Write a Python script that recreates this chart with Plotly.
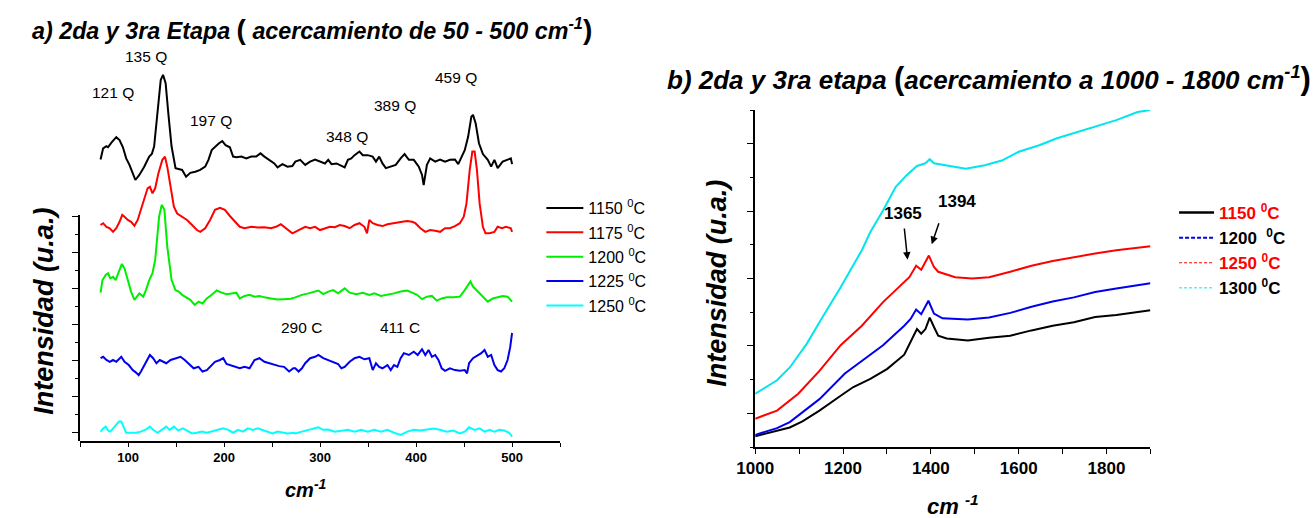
import plotly.graph_objects as go

# ---------------- panel a: Raman spectra 50-500 cm-1 (offset, arbitrary units) ----------------
labels_a = ["1150 <sup>0</sup>C", "1175 <sup>0</sup>C", "1200 <sup>0</sup>C", "1225 <sup>0</sup>C", "1250 <sup>0</sup>C"]
colors_a = ["#000000", "#ff0000", "#00ee00", "#0000ee", "#00ffff"]

spec_1150 = [(71.3, 7.57), (74.0, 7.88), (77.4, 7.94), (79.1, 7.91), (82.6, 8.04), (87.7, 8.19), (91.1, 8.11),
             (94.6, 7.91), (98.0, 7.60), (101.4, 7.42), (104.8, 7.19), (107.6, 7.00), (111.7, 7.14), (116.8, 7.37),
             (122.0, 7.65), (124.7, 7.72), (127.1, 7.93), (130.6, 8.94), (134.0, 9.78), (136.4, 9.92), (139.1, 9.69),
             (141.9, 8.85), (145.3, 7.93), (149.4, 7.33), (152.8, 7.30), (156.3, 7.28), (160.4, 7.09), (164.8, 7.20),
             (170.0, 7.23), (175.1, 7.28), (180.3, 7.37), (183.7, 7.56), (187.1, 7.83), (191.2, 7.94), (194.7, 8.02),
             (198.1, 8.08), (201.5, 7.97), (206.0, 7.91), (209.4, 7.65), (212.8, 7.63), (218.0, 7.65), (223.1, 7.60),
             (228.3, 7.65), (233.4, 7.65), (237.9, 7.74), (242.0, 7.65), (247.1, 7.56), (252.3, 7.46), (255.7, 7.35),
             (260.8, 7.44), (266.0, 7.37), (271.1, 7.39), (274.2, 7.51), (279.3, 7.56), (284.5, 7.42), (289.6, 7.51),
             (294.8, 7.57), (299.9, 7.51), (305.1, 7.46), (308.5, 7.56), (311.9, 7.44), (317.1, 7.46), (322.2, 7.39),
             (325.6, 7.35), (329.0, 7.56), (332.5, 7.60), (335.9, 7.69), (341.0, 7.79), (344.5, 7.69), (349.6, 7.69),
             (354.8, 7.65), (358.2, 7.51), (361.6, 7.65), (365.0, 7.46), (368.5, 7.33), (373.6, 7.37), (378.8, 7.42),
             (383.9, 7.60), (388.0, 7.72), (392.5, 7.56), (397.6, 7.56), (402.8, 7.37), (406.2, 7.14), (407.9, 6.86),
             (409.6, 7.19), (411.3, 7.42), (414.7, 7.60), (419.9, 7.51), (425.0, 7.57), (430.2, 7.51), (435.3, 7.56),
             (440.5, 7.57), (443.9, 7.44), (447.3, 7.65), (450.7, 7.83), (454.2, 8.20), (457.6, 8.76), (459.3, 8.81),
             (462.1, 8.57), (465.5, 8.02), (469.6, 7.72), (474.7, 7.56), (478.2, 7.37), (481.6, 7.56), (485.0, 7.33),
             (490.2, 7.51), (495.3, 7.56), (498.7, 7.60), (500.0, 7.44)]

spec_1175 = [(71.3, 5.75), (74.0, 5.80), (77.4, 5.70), (80.9, 5.66), (84.3, 5.56), (87.7, 5.66), (91.1, 5.84),
             (93.9, 6.03), (96.3, 5.98), (99.7, 5.89), (103.1, 5.84), (106.6, 5.73), (110.0, 5.89), (113.4, 6.17),
             (116.8, 6.44), (120.3, 6.77), (122.7, 6.81), (125.4, 6.63), (128.2, 6.77), (131.6, 7.19), (135.7, 7.56),
             (138.4, 7.65), (140.8, 7.37), (144.3, 6.81), (147.7, 6.26), (151.1, 6.07), (156.3, 5.98), (161.4, 5.89),
             (166.6, 5.75), (171.7, 5.61), (175.1, 5.56), (180.3, 5.66), (185.4, 5.89), (190.5, 6.17), (195.7, 6.23),
             (200.8, 6.17), (206.0, 6.00), (211.1, 5.84), (216.3, 5.70), (221.4, 5.66), (228.3, 5.70), (235.1, 5.68),
             (242.0, 5.69), (248.8, 5.66), (254.0, 5.70), (259.1, 5.77), (262.5, 5.70), (266.0, 5.61), (271.1, 5.52),
             (274.2, 5.56), (279.3, 5.63), (284.5, 5.70), (289.6, 5.66), (294.8, 5.70), (299.9, 5.61), (305.1, 5.66),
             (310.2, 5.70), (315.3, 5.69), (320.5, 5.75), (325.6, 5.72), (330.8, 5.66), (335.9, 5.75), (341.0, 5.80),
             (346.2, 5.70), (348.9, 5.52), (351.3, 5.89), (354.8, 5.80), (359.9, 5.75), (365.0, 5.72), (370.2, 5.77),
             (375.3, 5.80), (380.5, 5.81), (385.6, 5.84), (390.8, 5.86), (395.9, 5.84), (399.3, 5.80), (404.5, 5.66),
             (409.6, 5.56), (414.7, 5.61), (419.9, 5.59), (425.0, 5.56), (430.2, 5.66), (435.3, 5.66), (440.5, 5.72),
             (445.6, 5.80), (449.7, 5.98), (452.5, 6.35), (455.9, 7.28), (458.6, 7.79), (461.0, 7.79), (463.4, 7.28),
             (466.2, 6.35), (469.6, 5.70), (472.3, 5.52), (476.5, 5.52), (481.6, 5.56), (485.0, 5.70), (489.5, 5.66),
             (493.6, 5.70), (498.7, 5.66), (500.0, 5.56)]

spec_1200 = [(71.3, 3.87), (73.3, 4.22), (76.7, 4.36), (79.1, 4.41), (81.5, 4.27), (84.3, 4.31), (87.0, 4.22),
             (90.5, 4.45), (93.5, 4.67), (96.3, 4.54), (99.7, 4.22), (103.1, 3.90), (106.6, 3.67), (109.0, 3.76),
             (111.7, 3.85), (115.8, 3.76), (118.6, 3.94), (122.0, 4.22), (125.4, 4.41), (128.2, 4.78), (129.5, 5.15),
             (132.3, 5.98), (135.0, 6.31), (137.8, 6.17), (140.8, 5.15), (142.6, 4.78), (145.3, 4.22), (149.4, 3.94),
             (152.8, 3.90), (156.3, 3.81), (159.7, 3.76), (164.8, 3.67), (169.3, 3.53), (173.4, 3.62), (177.5, 3.57),
             (182.0, 3.71), (187.1, 3.81), (192.3, 3.93), (197.4, 3.87), (202.5, 3.83), (207.7, 3.85), (212.8, 3.87),
             (216.3, 3.71), (221.4, 3.78), (226.5, 3.81), (231.7, 3.76), (236.8, 3.78), (242.0, 3.74), (248.8, 3.71),
             (255.7, 3.68), (262.5, 3.69), (269.4, 3.70), (274.2, 3.74), (281.1, 3.81), (287.9, 3.85), (293.1, 3.90),
             (298.2, 3.93), (303.3, 3.83), (308.5, 3.90), (313.6, 3.94), (318.8, 3.85), (325.6, 3.99), (330.8, 3.87),
             (337.6, 3.83), (344.5, 3.87), (351.3, 3.81), (356.5, 3.85), (363.3, 3.78), (370.2, 3.81), (377.0, 3.85),
             (383.9, 3.90), (390.8, 3.93), (395.9, 3.87), (401.0, 3.81), (406.2, 3.69), (411.3, 3.76), (416.5, 3.78),
             (421.6, 3.65), (426.7, 3.71), (431.9, 3.74), (438.7, 3.74), (445.6, 3.76), (450.7, 3.94), (454.2, 4.08),
             (456.6, 4.18), (459.3, 4.04), (464.4, 3.90), (469.6, 3.78), (474.7, 3.62), (479.9, 3.71), (485.0, 3.74),
             (490.2, 3.78), (495.3, 3.76), (500.0, 3.62)]

spec_1225 = [(71.3, 2.05), (74.0, 2.09), (77.4, 2.00), (80.9, 1.95), (84.3, 2.00), (87.7, 1.95), (92.9, 2.09),
             (96.3, 1.95), (100.7, 1.86), (104.8, 1.72), (108.3, 1.65), (111.0, 1.58), (113.4, 1.68), (116.8, 1.86),
             (120.3, 2.00), (122.7, 2.14), (126.1, 2.05), (129.5, 1.91), (133.0, 2.00), (136.4, 1.95), (139.8, 1.91),
             (144.3, 2.00), (149.4, 2.05), (154.6, 2.09), (159.0, 2.00), (163.1, 1.91), (168.3, 1.77), (173.4, 1.81),
             (177.5, 1.68), (182.0, 1.72), (185.4, 1.81), (190.5, 1.95), (195.7, 2.00), (199.1, 2.05), (202.5, 1.89),
             (206.0, 1.86), (211.1, 1.81), (216.3, 1.77), (221.4, 1.81), (226.5, 1.77), (231.7, 2.00), (236.8, 2.05),
             (242.0, 1.95), (247.1, 1.91), (252.3, 1.86), (257.4, 1.83), (262.5, 1.81), (267.7, 1.68), (272.1, 1.77),
             (274.2, 1.77), (277.6, 1.68), (281.1, 1.77), (284.5, 1.91), (289.6, 2.05), (294.8, 2.09), (298.2, 2.14),
             (303.3, 2.05), (308.5, 2.00), (313.6, 1.95), (318.8, 1.89), (322.2, 1.77), (325.6, 1.81), (330.8, 1.95),
             (335.9, 2.05), (341.0, 2.09), (346.2, 2.02), (351.3, 2.05), (354.8, 1.72), (358.2, 1.91), (361.6, 1.81),
             (365.0, 1.77), (370.2, 1.86), (373.6, 1.72), (377.0, 1.86), (380.5, 1.81), (383.9, 2.05), (387.3, 2.19),
             (392.5, 2.14), (397.6, 2.23), (401.7, 2.14), (406.2, 2.30), (409.6, 2.14), (413.0, 2.28), (416.5, 2.09),
             (419.9, 2.14), (423.3, 2.00), (426.7, 1.77), (430.2, 1.70), (435.3, 1.77), (440.5, 1.72), (445.6, 1.70),
             (450.7, 1.72), (453.1, 1.63), (455.2, 1.91), (459.3, 2.05), (464.4, 2.14), (467.9, 2.19), (471.3, 2.28),
             (474.7, 2.09), (478.2, 2.14), (481.6, 1.86), (485.0, 1.72), (488.5, 1.68), (491.9, 1.77), (495.3, 2.00),
             (498.0, 2.35), (500.0, 2.75)]

spec_1250 = [(71.3, 0.01), (74.0, 0.10), (76.7, 0.15), (79.1, 0.04), (81.5, 0.01), (84.3, 0.10), (87.7, 0.19),
             (90.5, 0.29), (92.9, 0.29), (95.2, 0.15), (98.0, -0.02), (103.1, -0.02), (108.3, -0.02), (113.4, 0.01),
             (118.6, 0.07), (122.7, 0.15), (126.1, 0.06), (130.6, -0.02), (135.0, 0.07), (139.8, 0.15), (143.2, 0.06),
             (147.7, 0.15), (152.2, 0.04), (157.0, 0.10), (161.4, 0.04), (166.6, -0.04), (171.7, -0.02), (176.8, 0.01),
             (182.0, -0.02), (187.1, 0.01), (194.0, 0.06), (199.1, 0.10), (204.3, 0.06), (209.4, -0.02), (214.5, 0.06),
             (219.7, 0.01), (224.8, 0.10), (230.0, 0.06), (235.1, 0.10), (240.3, 0.06), (245.4, 0.01), (250.5, -0.04),
             (255.7, 0.01), (260.8, -0.02), (266.0, -0.04), (272.8, -0.02), (274.2, -0.04), (281.1, 0.01), (287.9, 0.06),
             (293.1, 0.10), (298.2, 0.13), (303.3, 0.06), (308.5, 0.07), (315.3, 0.01), (322.2, 0.04), (329.0, 0.06),
             (335.9, 0.01), (342.8, 0.06), (349.6, 0.01), (356.5, 0.06), (363.3, 0.01), (370.2, 0.06), (377.0, -0.02),
             (383.9, -0.08), (390.8, 0.01), (397.6, 0.06), (404.5, 0.04), (411.3, 0.07), (418.2, 0.10), (425.0, 0.06),
             (431.9, 0.01), (438.7, 0.04), (445.6, -0.04), (450.7, 0.01), (455.2, 0.13), (461.0, 0.06), (466.2, 0.10),
             (471.3, 0.01), (476.5, 0.06), (481.6, 0.01), (486.7, 0.06), (491.9, 0.04), (497.0, -0.02), (500.0, -0.13)]

spectra_a = [spec_1150, spec_1175, spec_1200, spec_1225, spec_1250]

peaks_a = [("121 Q", 83.9, 9.42), ("135 Q", 118.9, 10.42), ("197 Q", 186.8, 8.64), ("348 Q", 327.6, 8.20),
           ("389 Q", 378.0, 9.06), ("459 Q", 441.8, 9.85), ("290 C", 280.8, 2.89), ("411 C", 383.2, 2.89)]

# ---------------- panel b: 1000-1800 cm-1 region ----------------
labels_b = ["1150 <sup>0</sup>C", "1200  <sup>0</sup>C", "1250 <sup>0</sup>C", "1300 <sup>0</sup>C"]
colors_b = ["#000000", "#0000ee", "#ff0000", "#00e5ee"]
label_colors_b = ["#ff0000", "#000000", "#ff0000", "#000000"]

band_1150 = [(1000, -0.34), (1049.7, -0.26), (1078.7, -0.21), (1107.6, -0.12), (1146.3, 0.04), (1194.6, 0.26),
             (1223.5, 0.39), (1262.2, 0.51), (1300.8, 0.66), (1339.4, 0.87), (1351.0, 1.01), (1360.7, 1.15),
             (1368.4, 1.25), (1378.1, 1.18), (1387.7, 1.25), (1397.4, 1.42), (1407.1, 1.28), (1416.7, 1.15),
             (1436.0, 1.11), (1484.3, 1.08), (1532.6, 1.12), (1580.9, 1.15), (1629.2, 1.23), (1677.5, 1.30),
             (1725.8, 1.35), (1774.1, 1.43), (1822.4, 1.46), (1870.7, 1.50), (1900, 1.53)]
band_1200 = [(1000, -0.32), (1049.7, -0.22), (1078.7, -0.13), (1107.6, 0.01), (1146.3, 0.21), (1204.2, 0.59),
             (1242.9, 0.78), (1291.1, 1.01), (1339.4, 1.30), (1353.9, 1.40), (1366.5, 1.54), (1378.1, 1.47),
             (1394.5, 1.67), (1407.1, 1.48), (1426.4, 1.41), (1484.3, 1.39), (1532.6, 1.42), (1580.9, 1.49),
             (1629.2, 1.58), (1677.5, 1.66), (1725.8, 1.72), (1774.1, 1.80), (1822.4, 1.85), (1870.7, 1.90),
             (1900, 1.93)]
band_1250 = [(1000, -0.08), (1049.7, 0.04), (1098.0, 0.29), (1146.3, 0.63), (1194.6, 1.01), (1242.9, 1.30),
             (1291.1, 1.65), (1339.4, 1.95), (1351.0, 2.02), (1366.5, 2.19), (1378.1, 2.13), (1395.5, 2.34),
             (1407.1, 2.17), (1416.7, 2.10), (1455.4, 2.02), (1494.0, 2.00), (1532.6, 2.02), (1580.9, 2.10),
             (1629.2, 2.19), (1677.5, 2.26), (1725.8, 2.32), (1774.1, 2.37), (1822.4, 2.42), (1870.7, 2.46),
             (1900, 2.48)]
band_1300 = [(1000, 0.29), (1049.7, 0.49), (1078.7, 0.68), (1117.3, 1.03), (1146.3, 1.35), (1194.6, 1.87),
             (1242.9, 2.42), (1262.2, 2.69), (1291.1, 3.01), (1320.1, 3.36), (1344.3, 3.53), (1368.4, 3.67),
             (1387.7, 3.71), (1397.4, 3.77), (1407.1, 3.71), (1436.0, 3.68), (1479.5, 3.63), (1523.0, 3.68),
             (1561.6, 3.75), (1600.2, 3.88), (1648.5, 3.98), (1687.2, 4.08), (1725.8, 4.16), (1774.1, 4.25),
             (1822.4, 4.35), (1870.7, 4.47), (1900, 4.50)]
bands_b = [band_1150, band_1200, band_1250, band_1300]

# ---------------- page geometry helpers (pixels -> paper fractions) ----------------
W, H = 1315, 518
FONT = "Arial, Liberation Sans, sans-serif"


def fx(px):
    return px / W


def fy(py):
    return 1 - py / H


fig = go.Figure()

for lab, col, pts in zip(labels_a, colors_a, spectra_a):
    xs, ys = zip(*pts)
    fig.add_trace(go.Scatter(x=xs, y=ys, mode="lines", name=lab, legendgroup=lab,
                             line=dict(color=col, width=2), xaxis="x", yaxis="y", legend="legend"))

# carrier for the ticked intensity scale of panel a
fig.add_trace(go.Scatter(x=[], y=[], mode="lines", xaxis="x", yaxis="y2", showlegend=False, hoverinfo="skip"))

for lab, col, pts in zip(labels_b, colors_b, bands_b):
    xs, ys = zip(*pts)
    fig.add_trace(go.Scatter(x=xs, y=ys, mode="lines", showlegend=False,
                             line=dict(color=col, width=2), xaxis="x2", yaxis="y3"))

legend_b_style = [dict(color="#000000", width=2.5, dash="solid"),
                  dict(color="#0000ee", width=2, dash="4px,2px"),
                  dict(color="#ff0000", width=1, dash="3px,2px"),
                  dict(color="#00e5ee", width=1, dash="3px,2px")]
for lab, tcol, ls in zip(labels_b, label_colors_b, legend_b_style):
    fig.add_trace(go.Scatter(x=[None], y=[None], mode="lines", line=ls, xaxis="x2", yaxis="y3",
                             name=f"<span style='color:{tcol}'>{lab}</span>", legendgroup=lab, legend="legend2"))

axis_common = dict(showgrid=False, zeroline=False, showline=True, linecolor="black", linewidth=1.5,
                   ticks="outside", tickcolor="black", tickwidth=1.2)

fig.update_layout(
    width=W, height=H, margin=dict(l=0, r=0, t=0, b=0),
    paper_bgcolor="white", plot_bgcolor="rgba(0,0,0,0)",
    font=dict(family=FONT, color="black"),
    xaxis=dict(domain=[fx(62), fx(549)], range=[50, 550], anchor="y", dtick=100, tick0=0, ticklen=4,
               tickfont=dict(size=13, weight="bold"),
               minor=dict(dtick=50, tick0=0, ticks="outside", ticklen=4, tickcolor="black", tickwidth=1.2),
               **axis_common),
    yaxis=dict(domain=[fy(441), fy(40)], range=[-0.25, 10.889], visible=False, showgrid=False, zeroline=False),
    yaxis2=dict(domain=[fy(441), fy(215)], range=[-0.25, 6.028], anchor="x", dtick=1, tick0=0, ticklen=6,
                showticklabels=False,
                minor=dict(dtick=0.5, tick0=0, ticks="outside", ticklen=3, tickcolor="black", tickwidth=1.2),
                **axis_common),
    xaxis2=dict(domain=[fx(747), fx(1148)], range=[1000, 1900], anchor="y3", dtick=200, tick0=0, ticklen=5,
                tickfont=dict(size=17, weight="bold"),
                minor=dict(dtick=100, tick0=0, ticks="outside", ticklen=5, tickcolor="black", tickwidth=1.2),
                **axis_common),
    yaxis3=dict(domain=[fy(447), fy(110)], range=[-0.5, 4.5], anchor="x2", dtick=1, tick0=0, ticklen=6,
                showticklabels=False,
                minor=dict(dtick=0.5, tick0=0, ticks="outside", ticklen=3, tickcolor="black", tickwidth=1.2),
                **axis_common),
    legend=dict(x=fx(530), y=fy(191), xanchor="left", yanchor="top", bgcolor="rgba(0,0,0,0)",
                font=dict(family=FONT, size=16, color="black"), traceorder="grouped", tracegroupgap=0.6,
                itemwidth=37),
    legend2=dict(x=fx(1172), y=fy(195), xanchor="left", yanchor="top", bgcolor="rgba(0,0,0,0)",
                 font=dict(family=FONT, size=17, color="black", weight="bold"), traceorder="grouped",
                 tracegroupgap=0, itemwidth=35),
)

ann = []
big_a = "<span style='font-size:28px;font-style:normal'>{}</span>"
big_b = "<span style='font-size:31px;font-style:normal'>{}</span>"
ann.append(dict(xref="paper", yref="paper", x=fx(11), y=fy(30), xanchor="left", yanchor="middle", showarrow=False,
                text="a) 2da y 3ra Etapa " + big_a.format("(") + " acercamiento de 50 - 500 cm<sup>-1</sup>"
                     + big_a.format(")"),
                font=dict(family=FONT, size=23.3, weight="bold", style="italic", color="black")))
ann.append(dict(xref="paper", yref="paper", x=fx(655), y=fy(78), xanchor="left", yanchor="middle", showarrow=False,
                text="b) 2da y 3ra etapa " + big_b.format("(") + "acercamiento a 1000 - 1800 cm<sup>-1</sup>"
                     + big_b.format(")"),
                font=dict(family=FONT, size=26, weight="bold", style="italic", color="black")))
ann.append(dict(xref="paper", yref="paper", x=fx(25), y=fy(311), xanchor="center", yanchor="middle",
                textangle=-90, showarrow=False,
                text="Intensidad (u.a.)", font=dict(family=FONT, size=27, weight="bold", style="italic")))
ann.append(dict(xref="paper", yref="paper", x=fx(708), y=fy(283), xanchor="center", yanchor="middle",
                textangle=-90, showarrow=False,
                text="Intensidad (u.a.)", font=dict(family=FONT, size=27, weight="bold", style="italic")))
ann.append(dict(xref="paper", yref="paper", x=fx(291), y=fy(488), xanchor="center", yanchor="middle",
                showarrow=False,
                text="cm<sup>-1</sup>", font=dict(family=FONT, size=20, weight="bold", style="italic")))
ann.append(dict(xref="paper", yref="paper", x=fx(948), y=fy(505), xanchor="center", yanchor="middle",
                showarrow=False,
                text="cm <sup>-1</sup>", font=dict(family=FONT, size=22, weight="bold", style="italic")))

for txt, xv, yv in peaks_a:
    ann.append(dict(xref="x", yref="y", x=xv, y=yv, showarrow=False, text=txt,
                    font=dict(family=FONT, size=15.5, color="black")))

# band labels with arrows in panel b
ann.append(dict(xref="x2", yref="y3", x=1336.5, y=2.97, showarrow=False, text="1365",
                font=dict(family=FONT, size=17, weight="bold")))
ann.append(dict(xref="x2", yref="y3", x=1460, y=3.14, showarrow=False, text="1394",
                font=dict(family=FONT, size=17, weight="bold")))
ann.append(dict(xref="x2", yref="y3", x=1347, y=2.28, ax=-3.4, ay=-32.6, text="", showarrow=True,
                arrowhead=2, arrowsize=1, arrowwidth=1.5, arrowcolor="black"))
ann.append(dict(xref="x2", yref="y3", x=1402, y=2.51, ax=7.7, ay=-22.3, text="", showarrow=True,
                arrowhead=2, arrowsize=1, arrowwidth=1.5, arrowcolor="black"))

fig.update_layout(annotations=ann)
fig.write_html("out.html")
